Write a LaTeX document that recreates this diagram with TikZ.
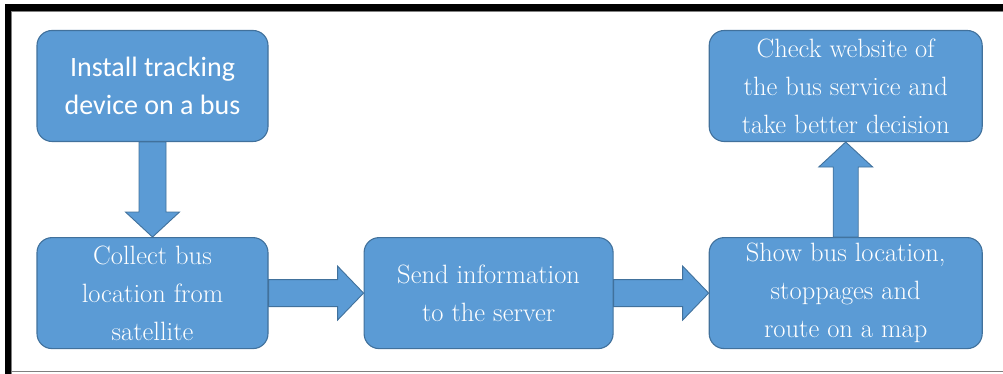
\documentclass[tikz,border=0pt]{standalone}
\usepackage{fontspec}
\newfontfamily\calibrifont{Carlito}
\usepackage{xcolor}
\usetikzlibrary{positioning}
\usetikzlibrary{calc}

\definecolor{boxblue}{HTML}{5B9BD5}
\definecolor{boxedge}{HTML}{41719C}

\tikzset{
  stepbox/.style={draw=boxedge, line width=1.1pt, fill=boxblue, rounded corners=15pt,
    minimum height=111pt, inner sep=0pt, align=center, text=white,
    font=\rmfamily\fontsize{26.5}{38}\selectfont},
  fatarrow/.style={draw=boxedge, line width=0.9pt, fill=boxblue}
}

\begin{document}
\begin{tikzpicture}[x=1pt, y=1pt]
\useasboundingbox (0,0) rectangle (1003,374);
% frame
\fill[black] (5,363) rectangle (1003,370);
\fill[black] (5,0) rectangle (11,370);
\draw[gray, line width=0.8pt] (11.5,0) -- (11.5,362.5) -- (1003,362.5);
\draw[gray, line width=1.2pt] (11,2.5) -- (1003,2.5);
% first column
\node (install) [stepbox, minimum width=231pt, font=\calibrifont\fontsize{28}{38}\selectfont] at (152.5,288) {Install tracking\\device on a bus};
\node (collect) [stepbox, minimum width=231pt, below=95pt of install] {Collect bus\\location from\\satellite};
% bottom line
\node (send) [stepbox, minimum width=249pt, right=95pt of collect] {Send information\\to the server};
\node (show) [stepbox, minimum width=273pt, right=95pt of send] {Show bus location,\\stoppages and\\route on a map};
% last box
\node (check) [stepbox, minimum width=273pt, above=95pt of show] {Check website of\\the bus service and\\take better decision};
% arrows
\draw[fatarrow] ($(install.south)+(-13.5,0)$) -- ($(collect.north)+(-13.5,25)$) -- ++(-13.5,0)
  -- (collect.north) -- ++(27,25) -- ++(-13.5,0) -- ($(install.south)+(13.5,0)$) -- cycle;
\draw[fatarrow] ($(collect.east)+(0,13.5)$) -- ($(send.west)+(-26,13.5)$) -- ++(0,13.5)
  -- (send.west) -- ++(-26,-27) -- ++(0,13.5) -- ($(collect.east)+(0,-13.5)$) -- cycle;
\draw[fatarrow] ($(send.east)+(0,13.5)$) -- ($(show.west)+(-26,13.5)$) -- ++(0,13.5)
  -- (show.west) -- ++(-26,-27) -- ++(0,13.5) -- ($(send.east)+(0,-13.5)$) -- cycle;
\draw[fatarrow] ($(show.north)+(-12.5,0)$) -- ($(check.south)+(-12.5,-25)$) -- ++(-14.5,0)
  -- (check.south) -- ++(27,-25) -- ++(-14.5,0) -- ($(show.north)+(12.5,0)$) -- cycle;
\end{tikzpicture}
\end{document}
